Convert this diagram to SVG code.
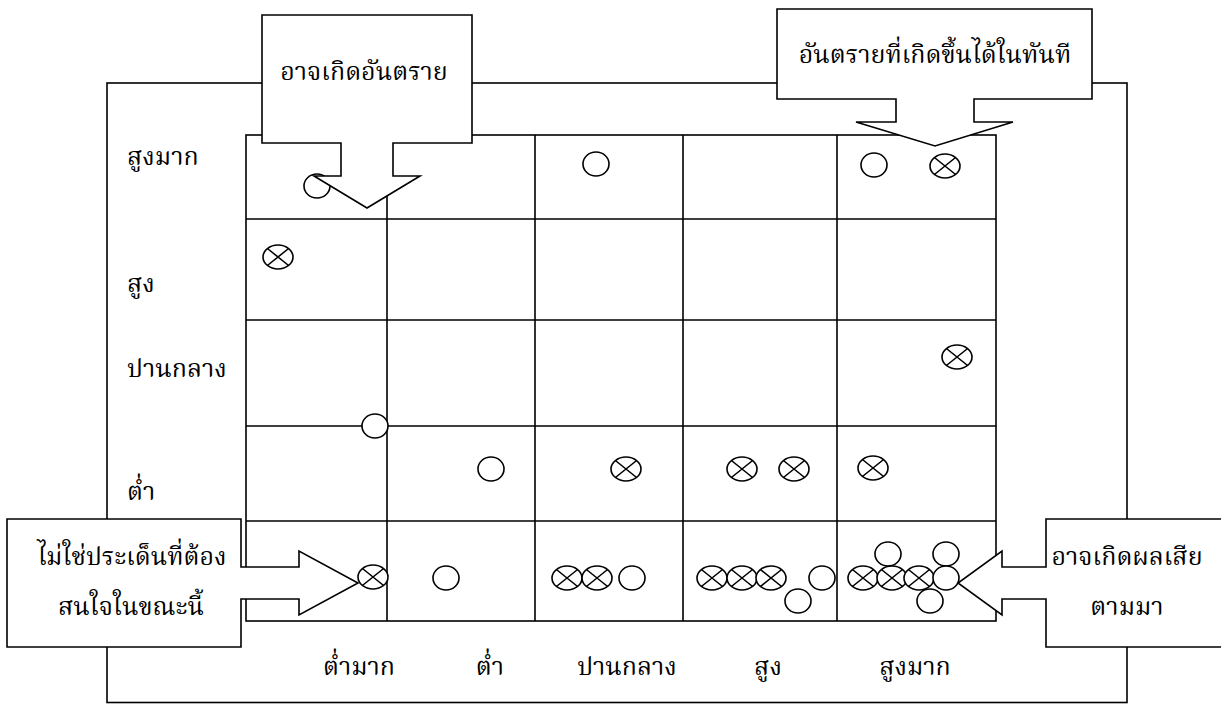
<svg xmlns="http://www.w3.org/2000/svg" width="1221" height="704" viewBox="0 0 1221 704">
<style>
.ln{fill:none;stroke:#000;stroke-width:1.6}
.co{fill:#fff;stroke:#000;stroke-width:1.6;stroke-linejoin:miter}
.sym{fill:#fff;stroke:#000;stroke-width:1.6}
.t{font-family:'Kinnari','Norasi','Noto Serif Thai','Noto Sans Thai','Liberation Serif',serif;font-size:25px;fill:#000}
.m{text-anchor:middle}
</style>
<defs>
<g id="o"><ellipse cx="0" cy="0" rx="13" ry="12" class="sym"/></g>
<g id="x"><ellipse cx="0" cy="0" rx="15" ry="12" class="sym"/><path d="M-10.6,-8.5L10.6,8.5M-10.6,8.5L10.6,-8.5" class="ln"/></g>
</defs>
<rect id="frame" x="107" y="83" width="1020" height="619.5" class="ln"/>
<g id="grid" class="ln">
<rect x="246" y="135" width="750" height="486"/>
<path d="M387,135V621M535,135V621M683,135V621M837,135V621M246,219H996M246,320H996M246,426H996M246,521H996"/>
</g>
<g id="row-labels" class="t">
<text x="127" y="165">สูงมาก</text>
<text x="127" y="292">สูง</text>
<text x="127" y="377">ปานกลาง</text>
<text x="127" y="500">ต่ำ</text>
</g>
<g id="col-labels" class="t m">
<text x="359" y="675">ต่ำมาก</text>
<text x="490" y="675">ต่ำ</text>
<text x="627" y="675">ปานกลาง</text>
<text x="768" y="675">สูง</text>
<text x="915" y="675">สูงมาก</text>
</g>
<g id="points">
<use href="#o" x="317" y="186"/>
<use href="#o" x="596" y="164"/>
<use href="#o" x="874" y="165"/>
<use href="#x" x="945" y="166"/>
<use href="#x" x="278" y="257"/>
<use href="#x" x="957" y="357"/>
<use href="#o" x="375" y="426"/>
<use href="#o" x="491" y="469"/>
<use href="#x" x="626" y="469"/>
<use href="#x" x="742" y="469"/>
<use href="#x" x="794" y="469"/>
<use href="#x" x="873" y="468"/>
<use href="#x" x="373" y="577"/>
<use href="#o" x="446" y="578"/>
<use href="#x" x="567" y="578"/>
<use href="#x" x="597" y="578"/>
<use href="#o" x="632" y="578"/>
<use href="#x" x="712" y="578"/>
<use href="#x" x="742" y="578"/>
<use href="#x" x="771" y="578"/>
<use href="#o" x="822" y="578"/>
<use href="#o" x="798" y="601"/>
<use href="#o" x="888" y="554"/>
<use href="#o" x="946" y="554"/>
<use href="#x" x="863" y="578"/>
<use href="#x" x="892" y="578"/>
<use href="#x" x="919" y="578"/>
<use href="#o" x="946" y="578"/>
<use href="#o" x="930" y="601"/>
</g>
<g id="callout-danger">
<path class="co" d="M262,15H472V143H393V176H420L367,208L314,176H341V143H262Z"/>
<text class="t m" x="364" y="80">อาจเกิดอันตราย</text>
</g>
<g id="callout-immediate">
<path class="co" d="M777,9H1092V99H974V122H1013L935,146L856,122H896V99H777Z"/>
<text class="t m" x="935" y="63">อันตรายที่เกิดขึ้นได้ในทันที</text>
</g>
<g id="callout-not-issue">
<path class="co" d="M7,519H241V567H299V551L358,583L299,615V599H241V647H7Z"/>
<text class="t m" x="132" y="565">ไม่ใช่ประเด็นที่ต้อง</text>
<text class="t m" x="131" y="615">สนใจในขณะนี้</text>
</g>
<g id="callout-consequence">
<path class="co" d="M1230,519H1046V567H1002V551L958,583L1002,615V599H1046V647H1230"/>
<text class="t m" x="1127" y="565">อาจเกิดผลเสีย</text>
<text class="t m" x="1127" y="615">ตามมา</text>
</g>
</svg>
